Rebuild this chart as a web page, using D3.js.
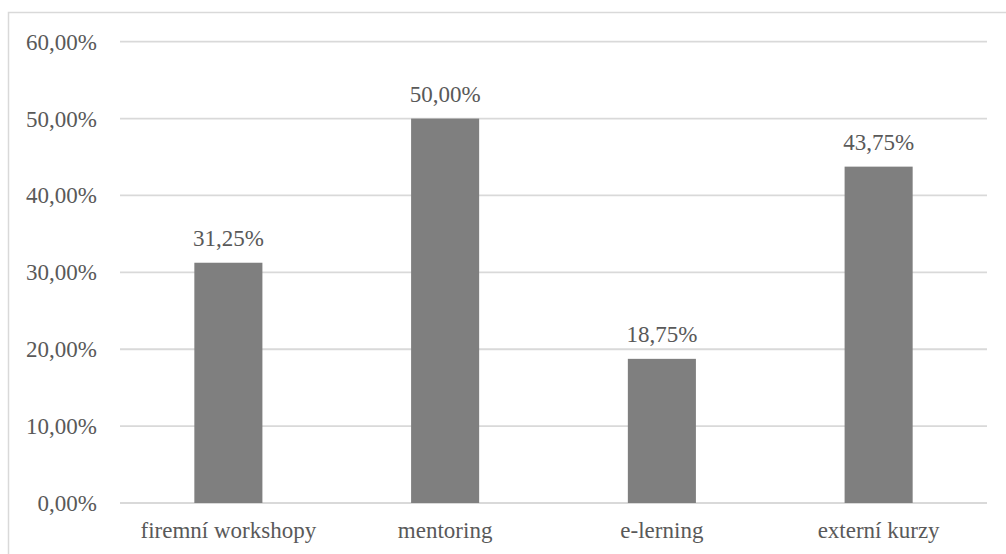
<!DOCTYPE html>
<html>
<head>
<meta charset="utf-8">
<script src="https://cdn.jsdelivr.net/npm/d3@7"></script>
<style>
  html, body { margin: 0; padding: 0; background: #fff; }
  svg { display: block; }
  text { font-family: "Liberation Serif", Tinos, "DejaVu Serif", serif; fill: #595959; }
</style>
</head>
<body>
<svg id="chart" width="1006" height="554"></svg>
<script>
// Forms of training used (share of respondents)
const categories = ["firemní workshopy", "mentoring", "e-lerning", "externí kurzy"];
const shares = [31.25, 50.00, 18.75, 43.75];
const yTicks = [0, 10, 20, 30, 40, 50, 60];

const fmt = v => v.toFixed(2).replace(".", ",") + "%";

const svg = d3.select("#chart");
const W = 1006, H = 554;
const plot = { left: 120, right: 987, top: 41.7, bottom: 503 };

// chart frame
svg.append("rect")
  .attr("x", 8.5).attr("y", 12.5)
  .attr("width", W + 10).attr("height", H + 10)
  .attr("fill", "none").attr("stroke", "#d9d9d9").attr("stroke-width", 1.5);

const x = d3.scaleBand().domain(categories).range([plot.left, plot.right]).padding(0);
const y = d3.scaleLinear().domain([0, 60]).range([plot.bottom, plot.top]);
const barW = x.bandwidth() * 0.314;

// gridlines
svg.append("g").selectAll("line").data(yTicks).join("line")
  .attr("x1", plot.left).attr("x2", plot.right)
  .attr("y1", d => y(d)).attr("y2", d => y(d))
  .attr("stroke", "#d9d9d9").attr("stroke-width", 1.8);

// y tick labels
svg.append("g").selectAll("text").data(yTicks).join("text")
  .attr("x", 97).attr("y", d => y(d) + 8)
  .attr("text-anchor", "end")
  .attr("font-size", 23)
  .text(d => fmt(d));

// bars
svg.append("g").selectAll("rect").data(categories).join("rect")
  .attr("x", (d) => x(d) + x.bandwidth() / 2 - barW / 2)
  .attr("width", barW)
  .attr("y", (d, i) => y(shares[i]))
  .attr("height", (d, i) => plot.bottom - y(shares[i]))
  .attr("fill", "#7f7f7f");

// value labels
svg.append("g").selectAll("text").data(categories).join("text")
  .attr("x", d => x(d) + x.bandwidth() / 2)
  .attr("y", (d, i) => y(shares[i]) - 17)
  .attr("text-anchor", "middle")
  .attr("font-size", 23)
  .text((d, i) => fmt(shares[i]));

// category labels
svg.append("g").selectAll("text").data(categories).join("text")
  .attr("x", d => x(d) + x.bandwidth() / 2)
  .attr("y", 538)
  .attr("text-anchor", "middle")
  .attr("font-size", 23)
  .text(d => d);
</script>
</body>
</html>
